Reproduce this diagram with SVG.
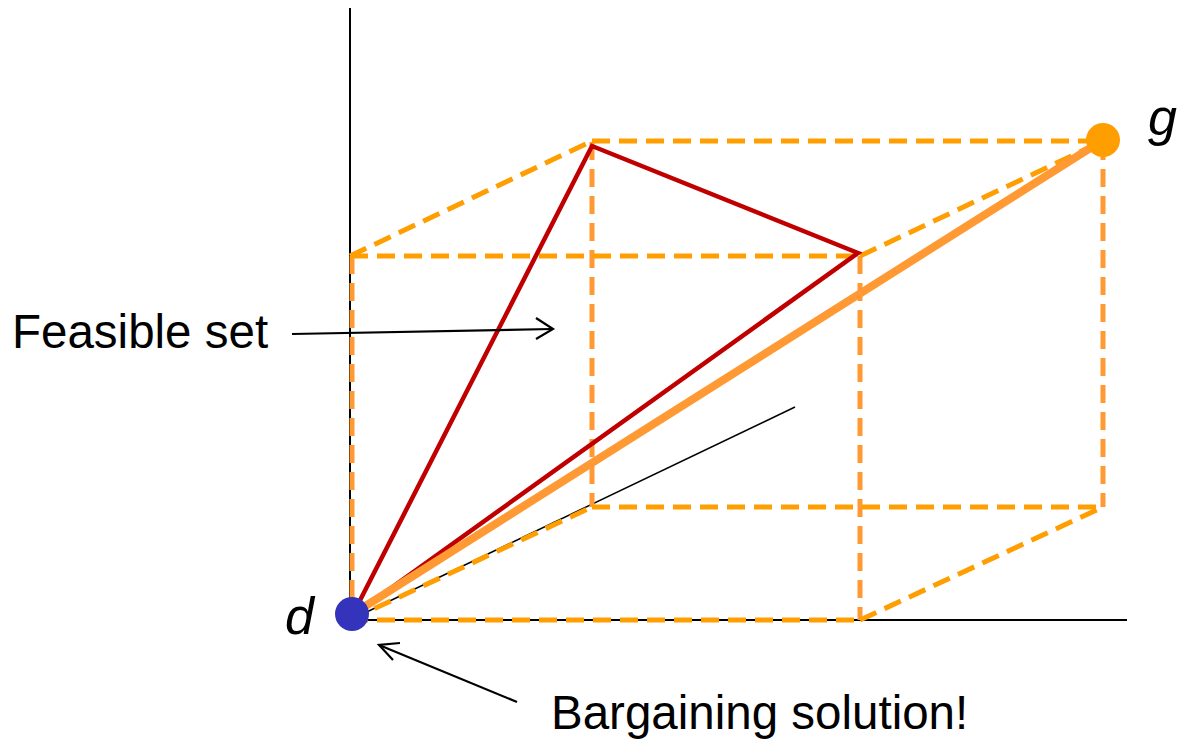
<svg xmlns="http://www.w3.org/2000/svg" width="1185" height="741" viewBox="0 0 1185 741">
<style>
.ax{stroke:#000;stroke-width:2;fill:none}
.thin{stroke:#000;stroke-width:1.5;fill:none}
.dh{stroke:#FF9E00;stroke-width:5;stroke-dasharray:18,9;fill:none}
.dv{stroke:#FF9933;stroke-width:5;stroke-dasharray:18,9;fill:none}
.red{stroke:#C00000;stroke-width:4.5;fill:none;stroke-linejoin:miter}
.arr{stroke:#000;stroke-width:2.2;fill:none}
.lbl{font-family:"Liberation Sans",Arial,sans-serif;font-size:47.5px;fill:#000}
.it{font-style:italic;font-size:52px}
</style>
<g id="axes">
<line class="ax" x1="350" y1="8" x2="350" y2="621"/>
<line class="ax" x1="349" y1="620" x2="1127" y2="620"/>
<line class="thin" x1="350" y1="620" x2="795" y2="407"/>
</g>
<g id="cube">
<line class="dv" x1="352" y1="256" x2="352" y2="620"/>
<line class="dv" x1="860" y1="256" x2="860" y2="620"/>
<line class="dv" x1="592" y1="142" x2="592" y2="507"/>
<line class="dv" x1="1103" y1="142" x2="1103" y2="507"/>
<line class="dh" x1="350" y1="256" x2="860" y2="256"/>
<line class="dh" x1="350" y1="620" x2="860" y2="620"/>
<line class="dh" x1="592" y1="141" x2="1103" y2="141"/>
<line class="dh" x1="592" y1="507" x2="1103" y2="507"/>
<line class="dh" x1="350" y1="256" x2="592" y2="141"/>
<line class="dh" x1="860" y1="256" x2="1103" y2="141"/>
<line class="dh" x1="860" y1="620" x2="1103" y2="507"/>
<line class="dh" x1="350" y1="620" x2="592" y2="507"/>
</g>
<g id="feasible-set">
<polygon class="red" points="352,616 592,146 858,253"/>
</g>
<g id="solution-line">
<line x1="356" y1="612" x2="1103" y2="140" stroke="#FF9933" stroke-width="8"/>
</g>
<g id="node-g">
<circle cx="1103" cy="140" r="17" fill="#FF9E00"/>
<text class="lbl it" x="1148" y="135">g</text>
</g>
<g id="node-d">
<circle cx="352" cy="614" r="17" fill="#3333BB"/>
<text class="lbl it" x="285" y="634">d</text>
</g>
<g id="label-feasible">
<text class="lbl" x="12" y="348">Feasible set</text>
</g>
<g id="label-bargaining">
<text class="lbl" x="551" y="729">Bargaining solution!</text>
</g>
<g id="connectors">
<line class="arr" x1="292" y1="334" x2="552" y2="329"/>
<polyline class="arr" points="536,318 553,329 536,339"/>
<line class="arr" x1="517" y1="702" x2="379" y2="645"/>
<polyline class="arr" points="400,643 379,645 393,660"/>
</g>
</svg>
